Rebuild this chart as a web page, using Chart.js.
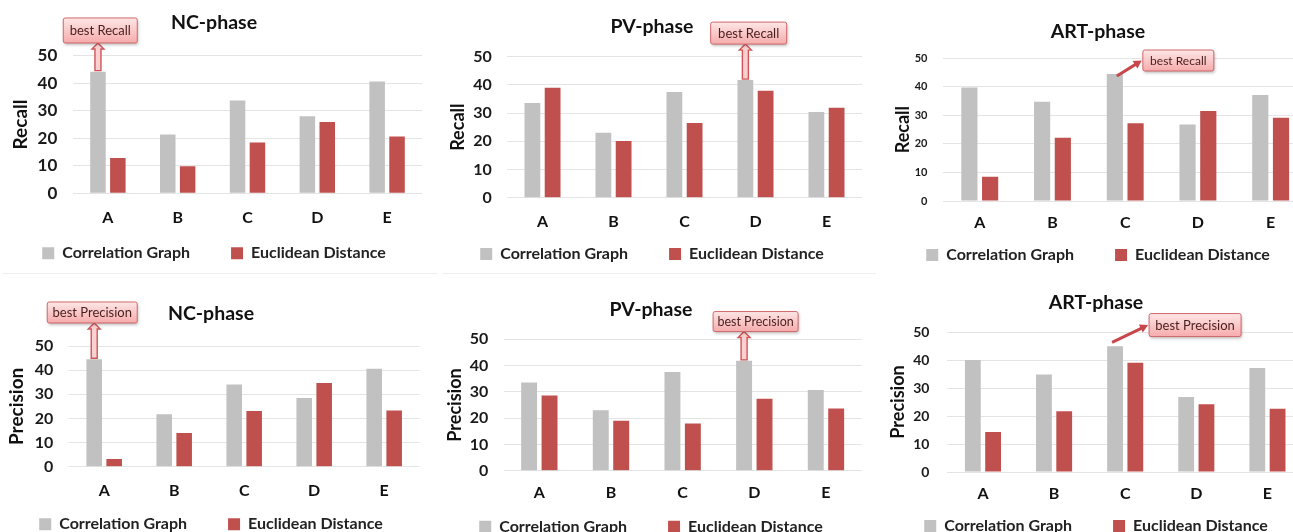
<!DOCTYPE html>
<html>
<head>
<meta charset="utf-8">
<script src="https://cdn.jsdelivr.net/npm/chart.js@4.4.1/dist/chart.umd.min.js"></script>
<style>
    html, body { margin: 0; padding: 0; background: #fff; }
    #wrap { position: relative; width: 1293px; height: 532px; overflow: hidden; }
    #wrap canvas { position: absolute; }
    .sep { position: absolute; height: 1px; background: #efefef; }
</style>
</head>
<body>
<div id="wrap">
    <div class="sep" style="left:2px;top:273px;width:436px"></div>
    <div class="sep" style="left:442px;top:273px;width:434px"></div>
</div>
<script>
// data
const categories = ['A', 'B', 'C', 'D', 'E'];
const seriesNames = ['Correlation Graph', 'Euclidean Distance'];
const yTicks = [0, 10, 20, 30, 40, 50];

const ncRecallCorr = [44.2, 21.4, 33.7, 28.0, 40.6];
const ncRecallEucl = [12.8, 9.8, 18.5, 25.9, 20.6];
const pvRecallCorr = [33.6, 23.0, 37.5, 41.7, 30.4];
const pvRecallEucl = [39.0, 20.1, 26.5, 37.9, 31.9];
const artRecallCorr = [39.8, 34.8, 44.5, 26.8, 37.1];
const artRecallEucl = [8.5, 22.2, 27.2, 31.5, 29.2];

const ncPrecCorr = [44.5, 21.7, 34.1, 28.5, 40.6];
const ncPrecEucl = [3.2, 14.0, 23.1, 34.7, 23.3];
const pvPrecCorr = [33.6, 23.0, 37.6, 41.8, 30.7];
const pvPrecEucl = [28.6, 19.0, 18.0, 27.4, 23.7];
const artPrecCorr = [40.0, 34.8, 44.9, 26.8, 37.1];
const artPrecEucl = [14.3, 21.7, 39.0, 24.2, 22.6];

const GRAY = '#c1c1c1';
const RED = '#c0504d';
const FONT = 'Lato, "Open Sans", sans-serif';
const LEGEND_GAP = 41;
const LEGEND_SIZE = 16;
const TITLE_SIZE = 19.5;
const X_AXIS_H = 45;

// layout per panel (pixels, canvas-relative)
const panels = [
    { left: 0, top: 0, w: 430, h: 270, title: 'NC-phase', yTitle: 'Recall', corr: ncRecallCorr, eucl: ncRecallEucl,
      padL: 6, plotL: 73, plotR: 422, plotT: 55.7, plotB: 193.3, titleY: 23, legendY: 253.3, xPad: 16,
      tickSize: 17, tickPad: 15.7, yTitleSize: 19, yTitleX: 20.7,
      callout: { text: 'best Recall', index: 0, kind: 'block', dx: -34.7, dy: -53.7, w: 74, h: 25, size: 13 } },
    { left: 430, top: 0, w: 440, h: 270, title: 'PV-phase', yTitle: 'Recall', corr: pvRecallCorr, eucl: pvRecallEucl,
      padL: 12, plotL: 77, plotR: 432, plotT: 56.7, plotB: 197.7, titleY: 26.7, legendY: 254, xPad: 15,
      tickSize: 16, tickPad: 15.3, yTitleSize: 18, yTitleX: 28,
      callout: { text: 'best Recall', index: 3, kind: 'block', dx: -34.7, dy: -58, w: 76, h: 22, size: 13 } },
    { left: 870, top: 0, w: 437, h: 270, title: 'ART-phase', yTitle: 'Recall', corr: artRecallCorr, eucl: artRecallEucl,
      padL: 19, plotL: 73.4, plotR: 437, plotT: 58.3, plotB: 201, titleY: 31.7, legendY: 255, xPad: 13.3,
      tickSize: 11, tickPad: 16, yTitleSize: 18, yTitleX: 33,
      callout: { text: 'best Recall', index: 2, kind: 'line', dx: 28, dy: -24, w: 71, h: 21, size: 12, sx: 2, sy: 2 } },
    { left: 0, top: 270, w: 430, h: 280, title: 'NC-phase', yTitle: 'Precision', corr: ncPrecCorr, eucl: ncPrecEucl,
      padL: 2.8, plotL: 69.2, plotR: 419.2, plotT: 76, plotB: 196.7, titleY: 43.3, legendY: 254.3, xPad: 15,
      tickSize: 16, tickPad: 15.9, yTitleSize: 19, yTitleX: 16.7,
      callout: { text: 'best Precision', index: 0, kind: 'block', dx: -47, dy: -57.3, w: 90, h: 21, size: 13 } },
    { left: 430, top: 270, w: 440, h: 280, title: 'PV-phase', yTitle: 'Precision', corr: pvPrecCorr, eucl: pvPrecEucl,
      padL: 10.2, plotL: 73.5, plotR: 431.8, plotT: 69.3, plotB: 200.7, titleY: 39.3, legendY: 256.7, xPad: 13.6,
      tickSize: 16, tickPad: 15.2, yTitleSize: 18, yTitleX: 25,
      callout: { text: 'best Precision', index: 3, kind: 'block', dx: -31, dy: -49.3, w: 85, h: 20, size: 12.5 } },
    { left: 870, top: 270, w: 433, h: 280, title: 'ART-phase', yTitle: 'Precision', corr: artPrecCorr, eucl: artPrecEucl,
      padL: 19, plotL: 77.4, plotR: 433, plotT: 62, plotB: 202, titleY: 32.7, legendY: 256, xPad: 13,
      tickSize: 14, tickPad: 18, yTitleSize: 18, yTitleX: 28.3,
      callout: { text: 'best Precision', index: 2, kind: 'line', dx: 34, dy: -32.7, w: 92, h: 23, size: 13, sx: -3, sy: -4 } },
];

// pins the legend block height, keeps both items on one row despite the wide gap,
// and draws the row at a given height
function fixedLegend(height, drawTop) {
    return {
        id: 'fixedLegend',
        afterInit(chart) {
            const legend = chart.legend;
            const fit = legend.fit;
            const draw = legend.draw;
            legend.fit = function () {
                const mw = this.maxWidth;
                this.maxWidth = mw + 1000;
                fit.call(this);
                this.maxWidth = mw;
                this.width = mw;
                this.height = height;
            };
            legend.draw = function () {
                const l = this.left, r = this.right, t = this.top;
                this.left = l - 500;
                this.right = r + 500;
                this.top = drawTop;
                draw.call(this);
                this.left = l;
                this.right = r;
                this.top = t;
            };
        }
    };
}

function roundRect(ctx, x, y, w, h, r) {
    ctx.beginPath();
    ctx.moveTo(x + r, y);
    ctx.lineTo(x + w - r, y);
    ctx.quadraticCurveTo(x + w, y, x + w, y + r);
    ctx.lineTo(x + w, y + h - r);
    ctx.quadraticCurveTo(x + w, y + h, x + w - r, y + h);
    ctx.lineTo(x + r, y + h);
    ctx.quadraticCurveTo(x, y + h, x, y + h - r);
    ctx.lineTo(x, y + r);
    ctx.quadraticCurveTo(x, y, x + r, y);
    ctx.closePath();
}

// "best ..." call-out anchored to the top of a bar
const calloutPlugin = {
    id: 'callout',
    afterDraw(chart, args, o) {
        if (!o || !o.text) return;
        const bar = chart.getDatasetMeta(0).data[o.index];
        const ctx = chart.ctx;
        const bx = bar.x, by = bar.y;
        const x = bx + o.dx, y = by + o.dy;
        ctx.save();

        if (o.kind === 'block') {
            const top = y + o.h, bot = by - 1;
            const sw = 3, hw = 6, hl = 6;
            ctx.beginPath();
            ctx.moveTo(bx, top);
            ctx.lineTo(bx + hw, top + hl);
            ctx.lineTo(bx + sw, top + hl);
            ctx.lineTo(bx + sw, bot);
            ctx.lineTo(bx - sw, bot);
            ctx.lineTo(bx - sw, top + hl);
            ctx.lineTo(bx - hw, top + hl);
            ctx.closePath();
            ctx.fillStyle = '#fbd0d0';
            ctx.fill();
            ctx.strokeStyle = '#d05558';
            ctx.lineWidth = 1.4;
            ctx.stroke();
        } else {
            const x0 = bx + o.sx, y0 = by + o.sy;
            const x1 = x - 1, y1 = y + o.h / 2;
            const ang = Math.atan2(y1 - y0, x1 - x0);
            const hl = 8;
            ctx.strokeStyle = '#c8474a';
            ctx.fillStyle = '#c8474a';
            ctx.lineWidth = 3;
            ctx.beginPath();
            ctx.moveTo(x0, y0);
            ctx.lineTo(x1 - hl * Math.cos(ang) * 0.8, y1 - hl * Math.sin(ang) * 0.8);
            ctx.stroke();
            ctx.beginPath();
            ctx.moveTo(x1, y1);
            ctx.lineTo(x1 - hl * Math.cos(ang) + 4.5 * Math.sin(ang), y1 - hl * Math.sin(ang) - 4.5 * Math.cos(ang));
            ctx.lineTo(x1 - hl * Math.cos(ang) - 4.5 * Math.sin(ang), y1 - hl * Math.sin(ang) + 4.5 * Math.cos(ang));
            ctx.closePath();
            ctx.fill();
        }

        ctx.shadowColor = 'rgba(0,0,0,0.25)';
        ctx.shadowBlur = 3;
        ctx.shadowOffsetX = 1;
        ctx.shadowOffsetY = 2;
        const g = ctx.createLinearGradient(0, y, 0, y + o.h);
        g.addColorStop(0, '#fde6e6');
        g.addColorStop(1, '#f6abab');
        roundRect(ctx, x, y, o.w, o.h, 2);
        ctx.fillStyle = g;
        ctx.fill();
        ctx.shadowColor = 'transparent';
        ctx.strokeStyle = '#d0676a';
        ctx.lineWidth = 1;
        ctx.stroke();

        ctx.fillStyle = '#4a1d1d';
        ctx.font = `${o.size}px ${FONT}`;
        ctx.textAlign = 'center';
        ctx.textBaseline = 'middle';
        ctx.fillText(o.text, x + o.w / 2, y + o.h / 2 + 0.5);
        ctx.restore();
    }
};

const wrap = document.getElementById('wrap');

panels.forEach((p) => {
    const canvas = document.createElement('canvas');
    canvas.width = p.w;
    canvas.height = p.h;
    canvas.style.left = p.left + 'px';
    canvas.style.top = p.top + 'px';
    canvas.style.width = p.w + 'px';
    canvas.style.height = p.h + 'px';
    wrap.appendChild(canvas);

    const legendTop = p.plotB + X_AXIS_H;
    const legendDrawTop = p.legendY - LEGEND_GAP - LEGEND_SIZE / 2;
    const titleLh = TITLE_SIZE * 1.2;
    const yTitleLh = p.yTitleSize * 1.2;

    new Chart(canvas, {
        type: 'bar',
        data: {
            labels: categories,
            datasets: [
                { label: seriesNames[0], data: p.corr, backgroundColor: GRAY, borderWidth: 0 },
                { label: seriesNames[1], data: p.eucl, backgroundColor: RED, borderWidth: 0 },
            ],
        },
        options: {
            responsive: false,
            animation: false,
            devicePixelRatio: 1,
            categoryPercentage: 0.57,
            barPercentage: 0.78,
            layout: { padding: { left: p.padL, right: p.w - p.plotR, top: 0, bottom: 0 } },
            plugins: {
                title: {
                    display: true,
                    text: p.title,
                    color: '#111',
                    font: { family: FONT, size: TITLE_SIZE, weight: 'bold' },
                    padding: { top: p.titleY - titleLh / 2, bottom: p.plotT - p.titleY - titleLh / 2 },
                },
                legend: {
                    position: 'bottom',
                    labels: {
                        boxWidth: 12,
                        boxHeight: 12,
                        padding: LEGEND_GAP,
                        color: '#222',
                        font: { family: FONT, size: LEGEND_SIZE, weight: 'bold' },
                    },
                },
                tooltip: { enabled: false },
                callout: p.callout,
            },
            scales: {
                x: {
                    grid: { display: false, drawTicks: false },
                    border: { display: false },
                    ticks: { color: '#111', padding: p.xPad - 0.6, font: { family: FONT, size: 16, weight: 'bold' } },
                    afterFit: (s) => { s.height = X_AXIS_H; },
                },
                y: {
                    min: 0,
                    max: 50,
                    grid: { color: '#e4e4e4', lineWidth: 1, drawTicks: false },
                    border: { display: false },
                    afterBuildTicks: (s) => { s.ticks = yTicks.map((v) => ({ value: v })); },
                    ticks: { color: '#1a1a1a', padding: p.tickPad, font: { family: FONT, size: p.tickSize, weight: 'bold' } },
                    title: {
                        display: true,
                        text: p.yTitle,
                        color: '#111',
                        font: { family: FONT, size: p.yTitleSize, weight: 'bold' },
                        padding: { top: p.yTitleX - p.padL - yTitleLh / 2, bottom: 0 },
                    },
                    afterFit: (s) => { s.width = p.plotL - p.padL; },
                },
            },
        },
        plugins: [fixedLegend(p.h - legendTop, legendDrawTop), calloutPlugin],
    });
});
</script>
</body>
</html>
